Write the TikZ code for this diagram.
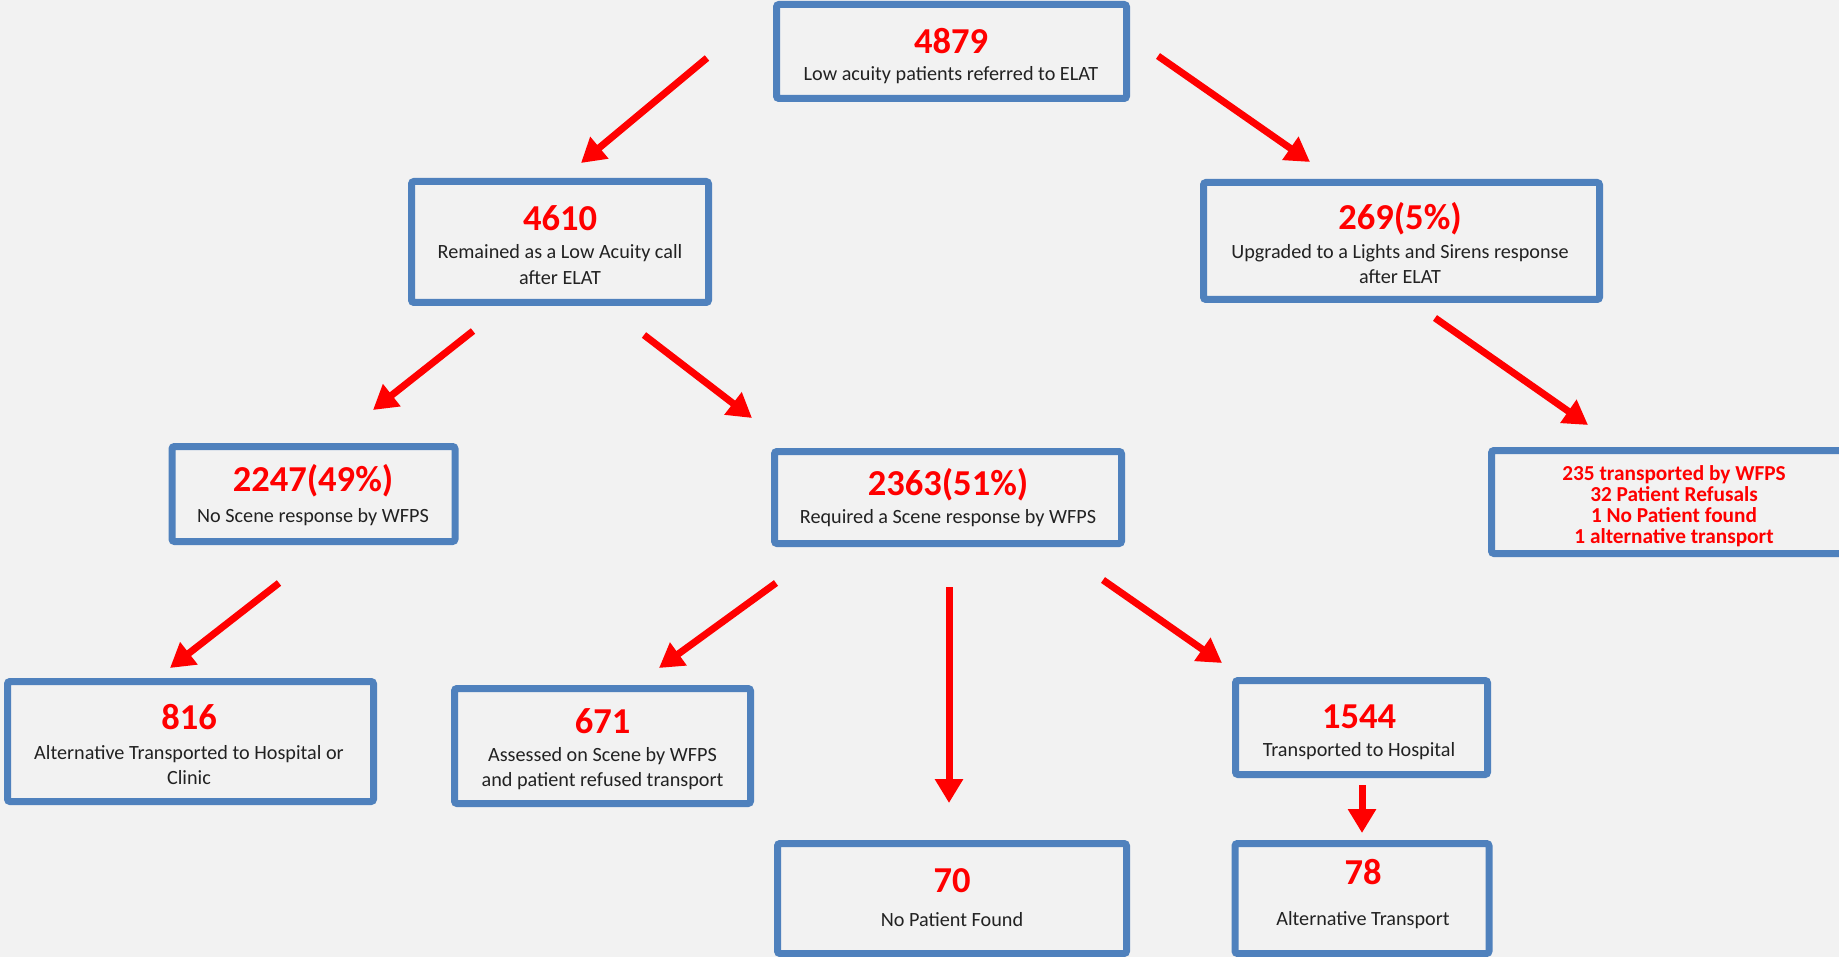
\documentclass[tikz,border=0pt]{standalone}
\usepackage{fontspec}
\setmainfont{Carlito}
\usetikzlibrary{arrows.meta}
\definecolor{bg}{HTML}{F2F2F2}
\definecolor{bblue}{HTML}{4F81BD}
\definecolor{nred}{HTML}{FF0000}
\definecolor{txt}{HTML}{222222}
\begin{document}
\begin{tikzpicture}[x=1pt,y=-1pt,
  box/.style={draw=bblue, line width=7pt, rounded corners=2.5pt, fill=bg, inner sep=0pt},
  num/.style={text=nred, font=\bfseries\fontsize{36.5}{40}\selectfont, inner sep=0pt},
  sub/.style={text=txt, font=\fontsize{20.2}{25.5}\selectfont, align=center, inner sep=0pt},
  redlist/.style={text=nred, font=\bfseries\fontsize{21.3}{20.8}\selectfont, align=center, inner sep=0pt},
  arr/.style={draw=nred, line width=7pt, -{Triangle[width=27pt,length=24pt]}}]
\useasboundingbox (0,0) rectangle (1839,957);
\fill[bg] (0,0) rectangle (1839,957);
\clip (0,0) rectangle (1839,957);

% boxes
\node[box, minimum width=350pt, minimum height=94pt] (b1) at (951.5,51.5) {};
\node[box, minimum width=297pt, minimum height=121pt] (b2) at (560,242) {};
\node[box, minimum width=396pt, minimum height=117pt] (b3) at (1401.5,241) {};
\node[box, minimum width=366pt, minimum height=103pt] (b4) at (1674.5,502) {};
\node[box, minimum width=283pt, minimum height=95pt] (b5) at (313.5,494) {};
\node[box, minimum width=347pt, minimum height=92pt] (b6) at (948,497.5) {};
\node[box, minimum width=366pt, minimum height=120pt] (b7) at (190.5,741.5) {};
\node[box, minimum width=296pt, minimum height=115pt] (b8) at (602.5,746) {};
\node[box, minimum width=349pt, minimum height=110pt] (b9) at (952,898.5) {};
\node[box, minimum width=252pt, minimum height=94pt] (b10) at (1361.5,727.5) {};
\node[box, minimum width=254pt, minimum height=110pt] (b11) at (1362,898.5) {};

% texts
\node[num] (n1) at (951,41.5) {4879};
\node[sub] (s1) at (951,75) {Low acuity patients referred to ELAT};
\node[num] (n2) at (560,218.5) {4610};
\node[sub] (s2) at (560,264.5) {Remained as a Low Acuity call\\after ELAT};
\node[num] (n3) at (1400,219) {269(5\%)};
\node[sub] (s3) at (1400,264) {Upgraded to a Lights and Sirens response\\after ELAT};
\node[redlist] (s4) at (1674,506) {235 transported by WFPS\\32 Patient Refusals\\1 No Patient found\\1 alternative transport};
\node[num] (n5) at (313,481) {2247(49\%)};
\node[sub] (s5) at (313,517) {No Scene response by WFPS};
\node[num] (n6) at (948,485) {2363(51\%)};
\node[sub] (s6) at (948,518) {Required a Scene response by WFPS};
\node[num] (n7) at (189,717.5) {816};
\node[sub] (s7) at (189,765) {Alternative Transported to Hospital or\\Clinic};
\node[num] (n8) at (602.5,721) {671};
\node[sub] (s8) at (602.5,768.5) {Assessed on Scene by WFPS\\and patient refused transport};
\node[num] (n9) at (952,881) {70};
\node[sub] (s9) at (952,919.5) {No Patient Found};
\node[num] (n10) at (1359,717) {1544};
\node[sub] (s10) at (1359,751.5) {Transported to Hospital};
\node[num] (n11) at (1363,872) {78};
\node[sub] (s11) at (1363,920.5) {Alternative Transport};

% arrow end points
\coordinate (a1s) at (707,58);   \coordinate (a1e) at (581,163);
\coordinate (a2s) at (1158,56);  \coordinate (a2e) at (1310,162);
\coordinate (a3s) at (473,331);  \coordinate (a3e) at (373,410);
\coordinate (a4s) at (644,335);  \coordinate (a4e) at (752,418);
\coordinate (a5s) at (1435,318); \coordinate (a5e) at (1588,425);
\coordinate (a6s) at (279,583);  \coordinate (a6e) at (170,668);
\coordinate (a7s) at (776,583);  \coordinate (a7e) at (659,668);
\coordinate (a8s) at (949,587);  \coordinate (a8e) at (949,803);
\coordinate (a9s) at (1103,580); \coordinate (a9e) at (1222,663);
\coordinate (a10s) at (1362,785); \coordinate (a10e) at (1362,833);

\draw[arr] (a1s) -- (a1e);
\draw[arr] (a2s) -- (a2e);
\draw[arr] (a3s) -- (a3e);
\draw[arr] (a4s) -- (a4e);
\draw[arr] (a5s) -- (a5e);
\draw[arr] (a6s) -- (a6e);
\draw[arr] (a7s) -- (a7e);
\draw[arr] (a8s) -- (a8e);
\draw[arr] (a9s) -- (a9e);
\draw[arr] (a10s) -- (a10e);
\end{tikzpicture}
\end{document}
